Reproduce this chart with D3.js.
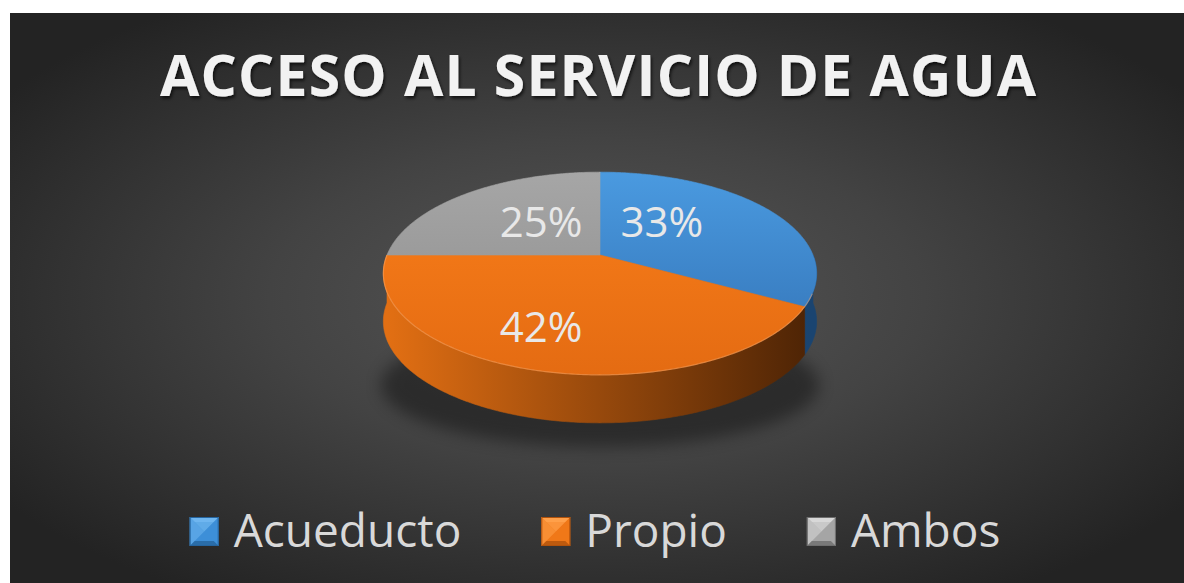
<!DOCTYPE html>
<html><head><meta charset="utf-8">
<script src="https://cdn.jsdelivr.net/npm/d3@7"></script>
<style>html,body{margin:0;padding:0;background:#fff;} svg{display:block}</style>
</head><body>
<svg id="chart" width="1184" height="583"></svg>
<script>
// ---- data ----
const title = "ACCESO AL SERVICIO DE AGUA";
const categories = ["Acueducto", "Propio", "Ambos"];
const values = [33, 42, 25];
const valueLabels = ["33%", "42%", "25%"];

// ---- styles / layout ----
const topColors  = [["#4c9de3", "#3170b3"], ["#fb801b", "#e46b12"], ["#a8a8a8", "#8b8b8b"]];
const wallColors = [["#2a64a0", "#1a4470"], ["#e26f13", "#4c2305"], ["#7a7a7a", "#555555"]];
const legendColors = [["#6fb6f0", "#3d8fd8", "#25649e"], ["#ffa04a", "#f07818", "#b0520c"], ["#d8d8d8", "#a5a5a5", "#6e6e6e"]];
// label placement on the disk: shift from mid angle (deg) and radius fraction
const labelPlace = [{shift: -18.6, r: 0.474}, {shift: 6.2, r: 0.692}, {shift: 5.6, r: 0.465}];

const W = 1184, H = 583;
const cx = 600, cy = 255, R = 213, RY = 98, D = 5.48, DEPTH = 48;

const svg = d3.select("#chart");
const defs = svg.append("defs");

// background
const bg = defs.append("radialGradient").attr("id", "bg").attr("cx", "0.5").attr("cy", "0.5").attr("r", "0.62");
bg.append("stop").attr("offset", 0).attr("stop-color", "#575757");
bg.append("stop").attr("offset", 0.45).attr("stop-color", "#434343");
bg.append("stop").attr("offset", 1).attr("stop-color", "#232323");
svg.append("rect").attr("x", 10).attr("y", 13).attr("width", W - 10).attr("height", H - 13).attr("fill", "url(#bg)");

// filters
const ts = defs.append("filter").attr("id", "tshadow").attr("x", "-5%").attr("y", "-20%").attr("width", "110%").attr("height", "150%");
ts.append("feDropShadow").attr("dx", 1.5).attr("dy", 2.5).attr("stdDeviation", 1.6).attr("flood-color", "#000").attr("flood-opacity", 0.65);
const ps = defs.append("filter").attr("id", "pshadow").attr("x", "-30%").attr("y", "-60%").attr("width", "160%").attr("height", "220%");
ps.append("feGaussianBlur").attr("stdDeviation", 8);

// title
svg.append("text")
  .attr("x", 160).attr("y", 96)
  .attr("font-family", "'Open Sans', sans-serif").attr("font-weight", 700).attr("font-size", 57)
  .attr("fill", "#f2f2f2").attr("filter", "url(#tshadow)")
  .attr("textLength", 876).attr("lengthAdjust", "spacing")
  .text(title);

// ---- pie geometry ----
const pie = d3.pie().sort(null).startAngle(0).endAngle(2 * Math.PI).value(d => d);
const arcs = pie(values);

function proj(theta, r, depth) {
  const X = r * Math.sin(theta), Z = -r * Math.cos(theta);
  const s = D / (D - Z);
  return [cx + R * X * s, cy + RY * Z * s + (depth || 0)];
}
function rimPoints(a0, a1, depth) {
  const n = Math.max(2, Math.ceil((a1 - a0) / 0.01));
  const pts = [];
  for (let i = 0; i <= n; i++) pts.push(proj(a0 + (a1 - a0) * i / n, 1, depth));
  return pts;
}
const line = d3.line();

// shadow under the pie
svg.append("ellipse").attr("cx", cx).attr("cy", cy + 130).attr("rx", R + 6).attr("ry", 62)
  .attr("fill", "#000").attr("opacity", 0.38).attr("filter", "url(#pshadow)");

// gradients
arcs.forEach((a, i) => {
  const g = defs.append("linearGradient").attr("id", "top" + i).attr("gradientUnits", "userSpaceOnUse")
    .attr("x1", 0).attr("y1", cy - RY).attr("x2", 0).attr("y2", cy + RY * 1.25);
  g.append("stop").attr("offset", 0).attr("stop-color", topColors[i][0]);
  g.append("stop").attr("offset", 1).attr("stop-color", topColors[i][1]);
  const w = defs.append("linearGradient").attr("id", "wall" + i).attr("gradientUnits", "userSpaceOnUse")
    .attr("x1", cx - R).attr("y1", 0).attr("x2", cx + R).attr("y2", 0);
  w.append("stop").attr("offset", 0).attr("stop-color", wallColors[i][0]);
  w.append("stop").attr("offset", 1).attr("stop-color", wallColors[i][1]);
});

// walls (front half only)
const gWalls = svg.append("g");
arcs.forEach((a, i) => {
  const lo = Math.max(a.startAngle, Math.PI / 2), hi = Math.min(a.endAngle, 3 * Math.PI / 2);
  if (hi <= lo) return;
  const topR = rimPoints(lo, hi, 0);
  const botR = rimPoints(lo, hi, DEPTH).reverse();
  gWalls.append("path").attr("d", line(topR.concat(botR)) + "Z")
    .attr("fill", `url(#wall${i})`).attr("stroke", `url(#wall${i})`).attr("stroke-width", 0.6);
});

// top faces
const gTop = svg.append("g");
arcs.forEach((a, i) => {
  const pts = [proj(0, 0, 0)].concat(rimPoints(a.startAngle, a.endAngle, 0));
  gTop.append("path").attr("d", line(pts) + "Z")
    .attr("fill", `url(#top${i})`).attr("stroke", `url(#top${i})`).attr("stroke-width", 0.6);
});
// rim highlight on front
gTop.append("path").attr("d", line(rimPoints(Math.PI * 0.62, Math.PI * 1.5, 0)))
  .attr("fill", "none").attr("stroke", "#ffb070").attr("stroke-opacity", 0.45).attr("stroke-width", 1.2);

// data labels
const gLab = svg.append("g");
arcs.forEach((a, i) => {
  const mid = (a.startAngle + a.endAngle) / 2 + labelPlace[i].shift * Math.PI / 180;
  const p = proj(mid, labelPlace[i].r, 0);
  gLab.append("text").attr("x", p[0]).attr("y", p[1] + 15)
    .attr("text-anchor", "middle")
    .attr("font-family", "'Open Sans', sans-serif").attr("font-size", 42)
    .attr("fill", "#e8e8e8").text(valueLabels[i]);
});

// ---- legend ----
const gLeg = svg.append("g");
const mk = 29, gapMT = 15, gapItem = 80, legBase = 547, legendCenter = 595;
const items = categories.map((c, i) => {
  const t = gLeg.append("text").attr("font-family", "'Open Sans', sans-serif").attr("font-size", 46)
    .attr("fill", "#d9d9d9").attr("y", legBase).text(c);
  return {t, w: t.node().getComputedTextLength(), i};
});
const total = d3.sum(items, d => mk + gapMT + d.w) + gapItem * (items.length - 1);
let x = legendCenter - total / 2;
items.forEach(d => {
  const y0 = 517, c = legendColors[d.i];
  const x0 = x, x1 = x + mk, y1 = y0 + mk, xm = x + mk / 2, ym = y0 + mk / 2, b = 5;
  const g = gLeg.append("g");
  g.append("rect").attr("x", x0).attr("y", y0).attr("width", mk).attr("height", mk).attr("fill", c[1]);
  g.append("path").attr("d", line([[x0, y0], [x1, y0], [x1 - b, y0 + b], [x0 + b, y0 + b]]) + "Z").attr("fill", c[0]);
  g.append("path").attr("d", line([[x0, y0], [x0 + b, y0 + b], [xm, ym], [x0 + b, y1 - b], [x0, y1]]) + "Z").attr("fill", c[0]).attr("opacity", 0.55);
  g.append("path").attr("d", line([[x0 + b, y0 + b], [x1 - b, y0 + b], [xm, ym]]) + "Z").attr("fill", c[0]).attr("opacity", 0.7);
  g.append("path").attr("d", line([[x0, y1], [x1, y1], [x1 - b, y1 - b], [x0 + b, y1 - b]]) + "Z").attr("fill", c[2]).attr("opacity", 0.8);
  g.append("rect").attr("x", x0 + 0.5).attr("y", y0 + 0.5).attr("width", mk - 1).attr("height", mk - 1)
    .attr("fill", "none").attr("stroke", c[2]).attr("stroke-width", 1);
  d.t.attr("x", x + mk + gapMT);
  x += mk + gapMT + d.w + gapItem;
});
</script>
</body></html>
